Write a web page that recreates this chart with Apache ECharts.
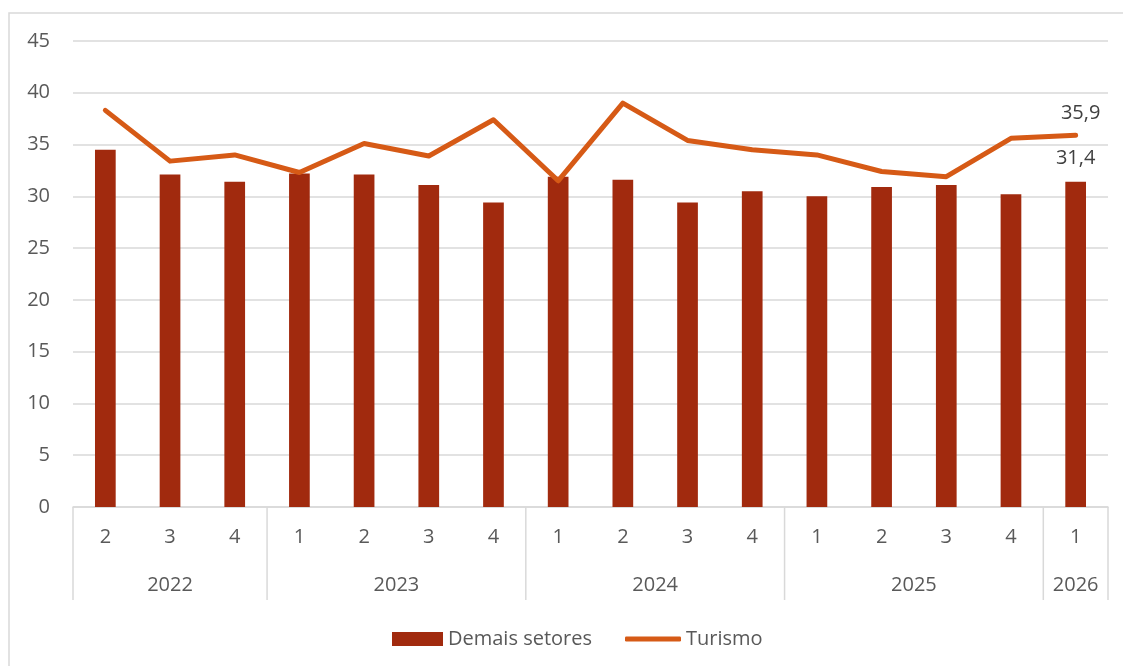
<!DOCTYPE html>
<html>
<head>
<meta charset="utf-8">
<script src="https://cdn.jsdelivr.net/npm/echarts@6/dist/echarts.min.js"></script>
<style>
  html, body { margin: 0; padding: 0; background: #ffffff; }
  #chart { width: 1123px; height: 666px; }
</style>
</head>
<body>
<div id="chart"></div>
<script>
// Quarter labels and the year each quarter belongs to
const quarters = ['2', '3', '4', '1', '2', '3', '4', '1', '2', '3', '4', '1', '2', '3', '4', '1'];
const years = ['2022', '2022', '2022', '2023', '2023', '2023', '2023', '2024', '2024', '2024', '2024', '2025', '2025', '2025', '2025', '2026'];

// Series values
const demaisSetores = [34.5, 32.1, 31.4, 32.2, 32.1, 31.1, 29.4, 31.9, 31.6, 29.4, 30.5, 30.0, 30.9, 31.1, 30.2, 31.4];
const turismo = [38.3, 33.4, 34.0, 32.3, 35.1, 33.9, 37.4, 31.5, 39.0, 35.4, 34.5, 34.0, 32.4, 31.9, 35.6, 35.9];

// Y axis range
const yMin = 0, yMax = 45, yStep = 5;

const FONT = "'Open Sans', 'Noto Sans', sans-serif";
const TEXT = '#595959';
const BAR_COLOR = '#A12A0E';
const LINE_COLOR = '#D65A16';
const RULE = '#D9D9D9';

const fmt = v => String(v.toFixed(1)).replace('.', ',');
const categories = quarters.map((q, i) => years[i] + '-' + q);
const last = categories.length - 1;

const chart = echarts.init(document.getElementById('chart'), null, { renderer: 'canvas' });

chart.setOption({
  animation: false,
  backgroundColor: '#ffffff',
  grid: { left: 73, right: 15, top: 41, bottom: 159, containLabel: false },
  xAxis: {
    type: 'category',
    data: categories,
    boundaryGap: true,
    axisLine: { show: true, lineStyle: { color: RULE, width: 1.5 } },
    axisTick: { show: false },
    axisLabel: {
      interval: 0,
      margin: 20,
      color: TEXT,
      fontFamily: FONT,
      fontSize: 20,
      formatter: (v, i) => quarters[i]
    },
    splitLine: { show: false }
  },
  yAxis: {
    type: 'value',
    min: yMin,
    max: yMax,
    interval: yStep,
    axisLine: { show: false },
    axisTick: { show: false },
    axisLabel: { color: TEXT, fontFamily: FONT, fontSize: 20, margin: 23 },
    splitLine: { lineStyle: { color: RULE, width: 1.5 } }
  },
  legend: [
    {
      data: [{ name: 'Demais setores', icon: 'rect' }],
      left: 387, top: 624,
      itemWidth: 51, itemHeight: 14, itemGap: 6,
      textStyle: { color: TEXT, fontFamily: FONT, fontSize: 20 }
    },
    {
      data: [{ name: 'Turismo', icon: 'roundRect' }],
      left: 620, top: 624,
      itemWidth: 56, itemHeight: 5, itemGap: 6,
      textStyle: { color: TEXT, fontFamily: FONT, fontSize: 20 }
    }
  ],
  series: [
    {
      name: 'Demais setores',
      type: 'bar',
      barWidth: '32%',
      itemStyle: { color: BAR_COLOR },
      data: demaisSetores.map((v, i) => i === last
        ? { value: v, label: { show: true, position: 'top', distance: 14, formatter: p => fmt(p.value), color: '#404040', fontFamily: FONT, fontSize: 20 } }
        : v),
      z: 2
    },
    {
      name: 'Turismo',
      type: 'line',
      symbol: 'circle',
      symbolSize: 0,
      showSymbol: true,
      lineStyle: { color: LINE_COLOR, width: 5, cap: 'round', join: 'round' },
      itemStyle: { color: LINE_COLOR },
      data: turismo.map((v, i) => i === last
        ? { value: v, label: { show: true, position: 'top', distance: 12, offset: [5, 0], formatter: p => fmt(p.value), color: '#404040', fontFamily: FONT, fontSize: 20 } }
        : v),
      z: 3
    }
  ]
});

// Year row: group separators and centred year labels, placed from the category axis
function drawYearRow() {
  const px = i => chart.convertToPixel({ xAxisIndex: 0 }, categories[i]);
  const axisY = chart.convertToPixel({ yAxisIndex: 0 }, yMin);
  const half = (px(1) - px(0)) / 2;
  const rowBottom = axisY + 93;
  const labelY = axisY + 78;

  const groups = [];
  years.forEach((y, i) => {
    const g = groups[groups.length - 1];
    if (g && g.year === y) g.end = i; else groups.push({ year: y, start: i, end: i });
  });

  const elements = [];
  // Frame around the chart
  elements.push({
    type: 'rect', silent: true, z: -1,
    shape: { x: 9, y: 13, width: 1200, height: 700 },
    style: { fill: null, stroke: RULE, lineWidth: 1.5 }
  });
  const bounds = [px(0) - half];
  groups.forEach(g => bounds.push(px(g.end) + half));
  bounds.forEach(x => elements.push({
    type: 'line', silent: true,
    shape: { x1: x, y1: axisY, x2: x, y2: rowBottom },
    style: { stroke: RULE, lineWidth: 1.5 }
  }));
  groups.forEach(g => elements.push({
    type: 'text', silent: true,
    x: (px(g.start) + px(g.end)) / 2, y: labelY,
    style: { text: g.year, fill: TEXT, font: '20px ' + FONT, align: 'center', verticalAlign: 'middle' }
  }));
  chart.setOption({ graphic: elements });
}
drawYearRow();
</script>
</body>
</html>
